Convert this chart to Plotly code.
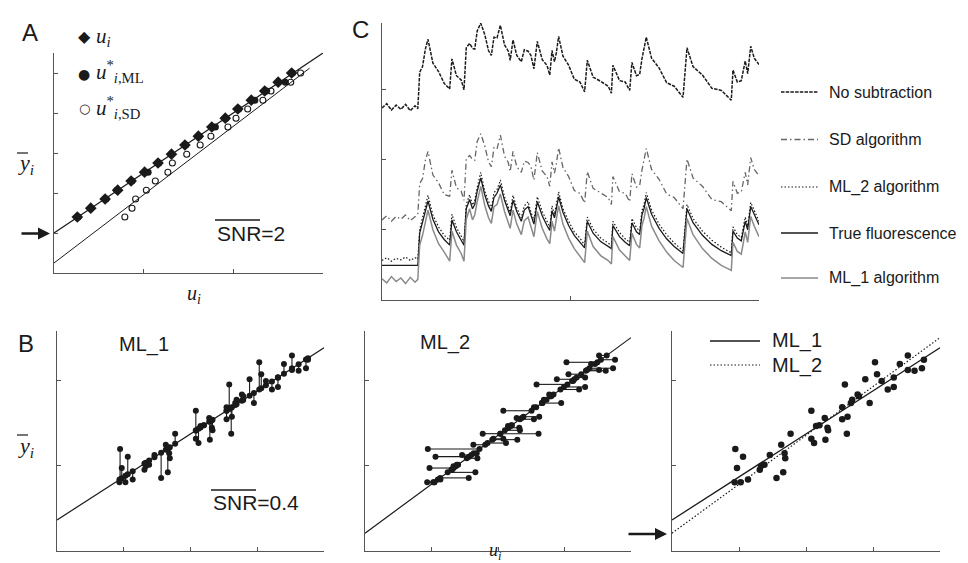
import numpy as np
import plotly.graph_objects as go

W, H = 968, 563


def px(x):
    return x / W


def py(y):
    return 1 - y / H


# ---------------- Panel A data ----------------
a_ybar = [1.40, 1.62, 1.85, 2.07, 2.30, 2.52, 2.75, 2.97, 3.20, 3.42, 3.65, 3.87, 4.10, 4.32, 4.55, 4.77, 5.00]
a_u = [0.26, 0.41, 0.57, 0.71, 0.86, 1.01, 1.16, 1.31, 1.46, 1.61, 1.76, 1.91, 2.05, 2.20, 2.35, 2.50, 2.65]
a_u_ml = [0.27, 0.41, 0.58, 0.70, 0.87, 1.05, 1.17, 1.31, 1.47, 1.62, 1.80, 1.92, 2.06, 2.24, 2.37, 2.58, 2.66]
a_u_sd = [0.79, 0.87, 0.91, 1.03, 1.13, 1.27, 1.32, 1.48, 1.63, 1.75, 1.94, 2.03, 2.16, 2.33, 2.42, 2.64, 2.75]
a_fit_ml_x = [0.0, 3.0]
a_fit_ml_y = [1.0, 5.5]
a_fit_sd_x = [0.0, 2.85]
a_fit_sd_y = [0.25, 5.12]

# ---------------- Panel B data ----------------
b_u = [0.945, 0.97, 1.06, 0.935, 1.025, 1.134, 1.31, 1.33, 1.38, 1.46, 1.56, 1.66,
       1.63, 1.68, 1.69, 1.77, 2.08, 2.08, 2.12, 2.15, 2.20, 2.28, 2.29, 2.32,
       2.33, 2.54, 2.54, 2.58, 2.62, 2.61, 2.67, 2.69, 2.77, 2.79, 2.885, 2.95,
       3.03, 3.06, 3.13, 3.22, 3.31, 3.31, 3.40, 3.52, 3.52, 3.62, 3.73, 3.76]
b_ybar = [1.20, 0.976, 1.11, 0.81, 0.81, 0.84, 0.957, 0.996, 1.015, 1.13, 0.86, 0.925,
          1.25, 1.15, 1.09, 1.38, 1.65, 1.32, 1.27, 1.47, 1.48, 1.565, 1.31, 1.45,
          1.42, 1.69, 1.55, 1.96, 1.58, 1.38, 1.74, 1.78, 1.84, 1.82, 2.02, 1.74,
          2.22, 2.08, 2.00, 1.90, 1.93, 2.04, 2.20, 2.30, 2.13, 2.12, 2.15, 2.25]
ml1_line_x = [0.0, 4.0]
ml1_line_y = [0.365, 2.39]
ml2_line_x = [0.0, 4.0]
ml2_line_y = [0.21, 2.51]

# ---------------- Panel C data ----------------
c_t = [0.000, 0.025, 0.050, 0.075, 0.100, 0.125, 0.150, 0.175, 0.190,
       0.200, 0.215, 0.230, 0.244, 0.270, 0.300, 0.330, 0.359, 0.371, 0.395,
       0.420, 0.435, 0.447, 0.465, 0.480, 0.492, 0.505, 0.524, 0.545, 0.565,
       0.580, 0.594, 0.610, 0.628, 0.650, 0.670, 0.680, 0.695, 0.715, 0.739,
       0.755, 0.775, 0.790, 0.806, 0.824, 0.850, 0.875, 0.890, 0.902, 0.915,
       0.925, 0.937, 0.960, 0.990, 1.020, 1.050, 1.075, 1.089, 1.120, 1.160,
       1.200, 1.217, 1.225, 1.260, 1.290, 1.314, 1.326, 1.350, 1.367, 1.379,
       1.390, 1.402, 1.430, 1.470, 1.510, 1.550, 1.597, 1.618, 1.650, 1.700,
       1.750, 1.800, 1.853, 1.862, 1.885, 1.906, 1.927, 1.940, 1.956, 1.975, 2.000]
c_true = [0.49, 0.49, 0.49, 0.49, 0.49, 0.49, 0.49, 0.49, 0.49,
          0.95, 1.10, 1.28, 1.41, 1.15, 0.97, 0.86, 0.78, 1.14, 0.97,
          0.85, 0.78, 1.30, 1.43, 1.30, 1.36, 1.55, 1.74, 1.50, 1.34,
          1.26, 1.46, 1.52, 1.64, 1.42, 1.26, 1.20, 1.42, 1.26, 1.12,
          1.28, 1.33, 1.20, 1.08, 1.40, 1.20, 1.06, 0.99, 1.27, 1.17,
          1.30, 1.47, 1.25, 1.06, 0.92, 0.82, 0.74, 1.12, 0.95, 0.83,
          0.76, 0.73, 1.06, 0.90, 0.82, 0.77, 1.10, 0.97, 0.93, 1.21,
          1.30, 1.46, 1.22, 1.02, 0.87, 0.76, 0.66, 1.30, 1.10, 0.92,
          0.79, 0.70, 0.63, 0.98, 0.88, 0.84, 1.12, 1.00, 1.33, 1.22, 1.07]
c_nosub = [2.74, 2.80, 2.71, 2.78, 2.72, 2.79, 2.70, 2.77, 2.73,
           3.25, 3.33, 3.58, 3.72, 3.38, 3.26, 3.09, 3.01, 3.44, 3.20,
           3.14, 3.00, 3.60, 3.66, 3.59, 3.58, 3.84, 3.95, 3.79, 3.56,
           3.49, 3.75, 3.74, 3.92, 3.64, 3.55, 3.42, 3.71, 3.49, 3.40,
           3.57, 3.55, 3.49, 3.30, 3.69, 3.43, 3.35, 3.21, 3.56, 3.40,
           3.53, 3.76, 3.48, 3.35, 3.15, 3.11, 2.97, 3.42, 3.18, 3.12,
           3.05, 2.95, 3.35, 3.13, 3.11, 2.99, 3.39, 3.20, 3.22, 3.44,
           3.59, 3.75, 3.45, 3.31, 3.10, 3.05, 2.89, 3.60, 3.33, 3.21,
           3.02, 2.99, 2.85, 3.28, 3.11, 3.13, 3.41, 3.23, 3.62, 3.45, 3.36]
c_sd = [1.14, 1.20, 1.12, 1.19, 1.15, 1.21, 1.13, 1.18, 1.22,
        1.66, 1.73, 1.99, 2.12, 1.78, 1.67, 1.50, 1.48, 1.85, 1.60,
        1.55, 1.42, 2.01, 2.06, 2.00, 1.99, 2.26, 2.37, 2.20, 1.97,
        1.90, 2.17, 2.15, 2.35, 2.05, 1.96, 1.83, 2.12, 1.90, 1.82,
        1.98, 1.96, 1.90, 1.71, 2.10, 1.84, 1.76, 1.62, 1.97, 1.81,
        1.94, 2.17, 1.89, 1.76, 1.56, 1.52, 1.38, 1.83, 1.59, 1.53,
        1.46, 1.36, 1.76, 1.54, 1.52, 1.40, 1.80, 1.61, 1.63, 1.85,
        2.00, 2.16, 1.86, 1.72, 1.51, 1.46, 1.30, 2.01, 1.74, 1.62,
        1.43, 1.40, 1.27, 1.69, 1.52, 1.54, 1.82, 1.64, 2.03, 1.86, 1.77]
c_ml2 = [0.56, 0.60, 0.55, 0.59, 0.57, 0.61, 0.56, 0.60, 0.58,
         1.00, 1.17, 1.34, 1.49, 1.21, 1.04, 0.92, 0.85, 1.22, 1.03,
         0.91, 0.83, 1.36, 1.50, 1.35, 1.42, 1.60, 1.82, 1.55, 1.40,
         1.30, 1.53, 1.57, 1.71, 1.47, 1.32, 1.25, 1.49, 1.31, 1.17,
         1.34, 1.40, 1.25, 1.14, 1.47, 1.26, 1.11, 1.04, 1.34, 1.22,
         1.36, 1.54, 1.30, 1.12, 0.97, 0.88, 0.78, 1.18, 1.01, 0.88,
         0.81, 0.77, 1.12, 0.96, 0.87, 0.82, 1.16, 1.03, 0.98, 1.27,
         1.36, 1.53, 1.28, 1.08, 0.93, 0.81, 0.70, 1.36, 1.16, 0.98,
         0.85, 0.75, 0.67, 1.04, 0.93, 0.89, 1.18, 1.05, 1.39, 1.27, 1.12]
c_ml1 = [0.30, 0.24, 0.33, 0.26, 0.31, 0.23, 0.32, 0.25, 0.29,
         0.78, 0.92, 1.12, 1.28, 1.00, 0.80, 0.68, 0.55, 0.98, 0.78,
         0.66, 0.55, 1.15, 1.30, 1.14, 1.21, 1.40, 1.62, 1.35, 1.17,
         1.09, 1.33, 1.36, 1.51, 1.26, 1.08, 1.02, 1.28, 1.08, 0.93,
         1.13, 1.18, 1.03, 0.90, 1.26, 1.02, 0.87, 0.80, 1.12, 0.98,
         1.15, 1.34, 1.08, 0.88, 0.73, 0.62, 0.53, 0.98, 0.76, 0.63,
         0.56, 0.51, 0.90, 0.71, 0.62, 0.56, 0.95, 0.79, 0.74, 1.06,
         1.16, 1.33, 1.05, 0.84, 0.68, 0.56, 0.46, 1.16, 0.93, 0.73,
         0.59, 0.49, 0.42, 0.82, 0.69, 0.65, 0.97, 0.82, 1.19, 1.05, 0.90]

c_legend = ["No subtraction", "SD algorithm", "ML_2 algorithm", "True fluorescence", "ML_1 algorithm"]

BLACK = "#1a1a1a"
GRAY = "#8a8a8a"
SDGRAY = "#666666"
AXC = "#555555"
SERIF = "Liberation Serif, DejaVu Serif, serif"
SANS = "Liberation Sans, Arial, sans-serif"

fig = go.Figure()

# ---- Panel A ----
fig.add_trace(go.Scatter(x=a_fit_ml_x, y=a_fit_ml_y, mode="lines", line=dict(color=BLACK, width=1.2),
                         xaxis="x", yaxis="y", hoverinfo="skip"))
fig.add_trace(go.Scatter(x=a_fit_sd_x, y=a_fit_sd_y, mode="lines", line=dict(color=BLACK, width=1.0),
                         xaxis="x", yaxis="y", hoverinfo="skip"))
fig.add_trace(go.Scatter(x=a_u_sd, y=a_ybar, mode="markers",
                         marker=dict(symbol="circle-open", size=6, color=BLACK, line=dict(width=1.1)),
                         xaxis="x", yaxis="y"))
fig.add_trace(go.Scatter(x=a_u, y=a_ybar, mode="markers",
                         marker=dict(symbol="diamond", size=9, color=BLACK),
                         xaxis="x", yaxis="y"))
fig.add_trace(go.Scatter(x=a_u_ml, y=a_ybar, mode="markers",
                         marker=dict(symbol="circle", size=7, color=BLACK),
                         xaxis="x", yaxis="y"))

# ---- Panel C ----
c_styles = [
    (c_nosub, dict(color=BLACK, width=1.5, dash="3.5px,1.2px")),
    (c_sd, dict(color=SDGRAY, width=1.3, dash="6px,3px,1.5px,3px")),
    (c_ml2, dict(color=BLACK, width=1.2, dash="1.5px,2px")),
    (c_true, dict(color=BLACK, width=1.3)),
    (c_ml1, dict(color=GRAY, width=1.5)),
]
for vals, ln in c_styles:
    fig.add_trace(go.Scatter(x=c_t, y=vals, mode="lines", line=ln, xaxis="x2", yaxis="y2", hoverinfo="skip"))

# ---- Panel B ----
b_u_arr = np.array(b_u)
b_y_arr = np.array(b_ybar)
fit1 = np.interp(b_u_arr, ml1_line_x, ml1_line_y)
u_star2 = np.interp(b_y_arr, ml2_line_y, ml2_line_x)

seg1_x, seg1_y = [], []
for u, yb, f in zip(b_u_arr, b_y_arr, fit1):
    seg1_x += [u, u, None]
    seg1_y += [yb, f, None]
seg2_x, seg2_y = [], []
for u, yb, us in zip(b_u_arr, b_y_arr, u_star2):
    seg2_x += [u, us, None]
    seg2_y += [yb, yb, None]

# B1 (ML_1)
fig.add_trace(go.Scatter(x=ml1_line_x, y=ml1_line_y, mode="lines", line=dict(color=BLACK, width=1.2),
                         xaxis="x3", yaxis="y3", hoverinfo="skip"))
fig.add_trace(go.Scatter(x=seg1_x, y=seg1_y, mode="lines", line=dict(color=BLACK, width=1.1),
                         xaxis="x3", yaxis="y3", hoverinfo="skip"))
fig.add_trace(go.Scatter(x=b_u_arr, y=fit1, mode="markers", marker=dict(size=6, color=BLACK),
                         xaxis="x3", yaxis="y3"))
fig.add_trace(go.Scatter(x=b_u, y=b_ybar, mode="markers", marker=dict(size=6, color=BLACK),
                         xaxis="x3", yaxis="y3"))
# B2 (ML_2)
fig.add_trace(go.Scatter(x=ml2_line_x, y=ml2_line_y, mode="lines", line=dict(color=BLACK, width=1.2),
                         xaxis="x4", yaxis="y4", hoverinfo="skip"))
fig.add_trace(go.Scatter(x=seg2_x, y=seg2_y, mode="lines", line=dict(color=BLACK, width=1.1),
                         xaxis="x4", yaxis="y4", hoverinfo="skip"))
fig.add_trace(go.Scatter(x=u_star2, y=b_y_arr, mode="markers", marker=dict(size=6, color=BLACK),
                         xaxis="x4", yaxis="y4"))
fig.add_trace(go.Scatter(x=b_u, y=b_ybar, mode="markers", marker=dict(size=6, color=BLACK),
                         xaxis="x4", yaxis="y4"))
# B3 (comparison)
fig.add_trace(go.Scatter(x=ml1_line_x, y=ml1_line_y, mode="lines", line=dict(color=BLACK, width=1.3),
                         xaxis="x5", yaxis="y5", hoverinfo="skip"))
fig.add_trace(go.Scatter(x=ml2_line_x, y=ml2_line_y, mode="lines",
                         line=dict(color=BLACK, width=1.2, dash="1.5px,2px"),
                         xaxis="x5", yaxis="y5", hoverinfo="skip"))
fig.add_trace(go.Scatter(x=b_u, y=b_ybar, mode="markers", marker=dict(size=6.5, color=BLACK),
                         xaxis="x5", yaxis="y5"))


def axis(domain, rng, ticks, anchor):
    return dict(domain=domain, range=rng, anchor=anchor, showline=True, linecolor=AXC, linewidth=1.2,
                ticks="inside", ticklen=4, tickwidth=1, tickcolor=AXC, tickvals=ticks,
                showticklabels=False, showgrid=False, zeroline=False, fixedrange=True)


layout = dict(
    width=W, height=H, margin=dict(l=0, r=0, t=0, b=0), showlegend=False,
    paper_bgcolor="white", plot_bgcolor="white",
    xaxis=axis([px(46), px(315)], [0, 3], [0, 1, 2, 3], "y"),
    yaxis=axis([py(265), py(45)], [0, 5.5], [0, 1, 2, 3, 4, 5], "x"),
    xaxis2=axis([px(374), px(751)], [0, 2], [0, 1, 2], "y2"),
    yaxis2=axis([py(291.7), py(15)], [0, 3.953], [0, 1, 2, 3], "x2"),
    xaxis3=axis([px(49), px(316)], [0, 4], [0, 1, 2, 3, 4], "y3"),
    yaxis3=axis([py(543), py(323)], [0, 2.588], [0, 1, 2], "x3"),
    xaxis4=axis([px(357), px(623)], [0, 4], [0, 1, 2, 3, 4], "y4"),
    yaxis4=axis([py(543), py(323)], [0, 2.588], [0, 1, 2], "x4"),
    xaxis5=axis([px(664), px(932)], [0, 4], [0, 1, 2, 3, 4], "y5"),
    yaxis5=axis([py(543), py(323)], [0, 2.588], [0, 1, 2], "x5"),
)
fig.update_layout(**layout)

ann = []
shapes = []


def text(x, y, s, size, family=SANS, xanchor="center", yanchor="middle", color=BLACK):
    ann.append(dict(x=px(x), y=py(y), xref="paper", yref="paper", text=s, showarrow=False,
                    xanchor=xanchor, yanchor=yanchor, font=dict(size=size, family=family, color=color)))


def hline(x0, x1, y, width=1.2, dash=None, color=BLACK):
    ln = dict(color=color, width=width)
    if dash:
        ln["dash"] = dash
    shapes.append(dict(type="line", xref="paper", yref="paper", x0=px(x0), x1=px(x1), y0=py(y), y1=py(y), line=ln))


# panel letters
text(22, 24, "A", 24)
text(18, 335, "B", 24)
text(352, 21, "C", 24)

# Panel A legend
text(76, 29, "◆", 16, family="DejaVu Sans")
text(76, 66, "●", 14, family="DejaVu Sans")
text(76, 101, "○", 13, family="DejaVu Sans")
text(86, 29, "<i>u<sub>i</sub></i>", 21, family=SERIF, xanchor="left")
text(86, 64, "<i>u</i><sup>*</sup><sub><i>i</i>,ML</sub>", 21, family=SERIF, xanchor="left")
text(86, 99, "<i>u</i><sup>*</sup><sub><i>i</i>,SD</sub>", 21, family=SERIF, xanchor="left")

# SNR labels
text(207, 225, "SNR=2", 21, xanchor="left")
hline(207, 252, 212, width=1.3)
text(203, 494, "SNR=0.4", 21, xanchor="left")
hline(203, 248, 482, width=1.3)

# axis labels
text(8, 156, "<i>y</i><sub><i>i</i></sub>", 22, family=SERIF, xanchor="left")
hline(9, 20, 145, width=1.2)
text(8, 439, "<i>y</i><sub><i>i</i></sub>", 22, family=SERIF, xanchor="left")
hline(9, 20, 427, width=1.2)
text(186, 286, "<i>u<sub>i</sub></i>", 20, family=SERIF)
text(487, 543, "<i>u<sub>i</sub></i>", 18, family=SERIF)

# B subpanel titles
text(136, 336, "ML_1", 20)
text(437, 334, "ML_2", 20)

# B3 legend
hline(702, 752, 333, width=1.3)
text(762, 333, "ML_1", 20, xanchor="left")
hline(702, 752, 357, width=1.2, dash="1.5px,2px")
text(762, 357, "ML_2", 20, xanchor="left")

# C legend
c_leg_y = [84, 131.5, 179, 225, 270]
for (vals, ln), name, yy in zip(c_styles, c_legend, c_leg_y):
    hline(773, 810, yy, width=ln["width"], dash=ln.get("dash"), color=ln["color"])
    text(819, yy, name, 16, xanchor="left")

# arrows
ann.append(dict(x=px(42), y=py(225.5), xref="paper", yref="paper", ax=-30, ay=0, text="",
                showarrow=True, arrowhead=2, arrowwidth=2.4, arrowsize=1.0, arrowcolor=BLACK))
ann.append(dict(x=px(659), y=py(526), xref="paper", yref="paper", ax=-40, ay=0, text="",
                showarrow=True, arrowhead=2, arrowwidth=2.4, arrowsize=1.0, arrowcolor=BLACK))

fig.update_layout(annotations=ann, shapes=shapes)
fig.write_html("out.html")
